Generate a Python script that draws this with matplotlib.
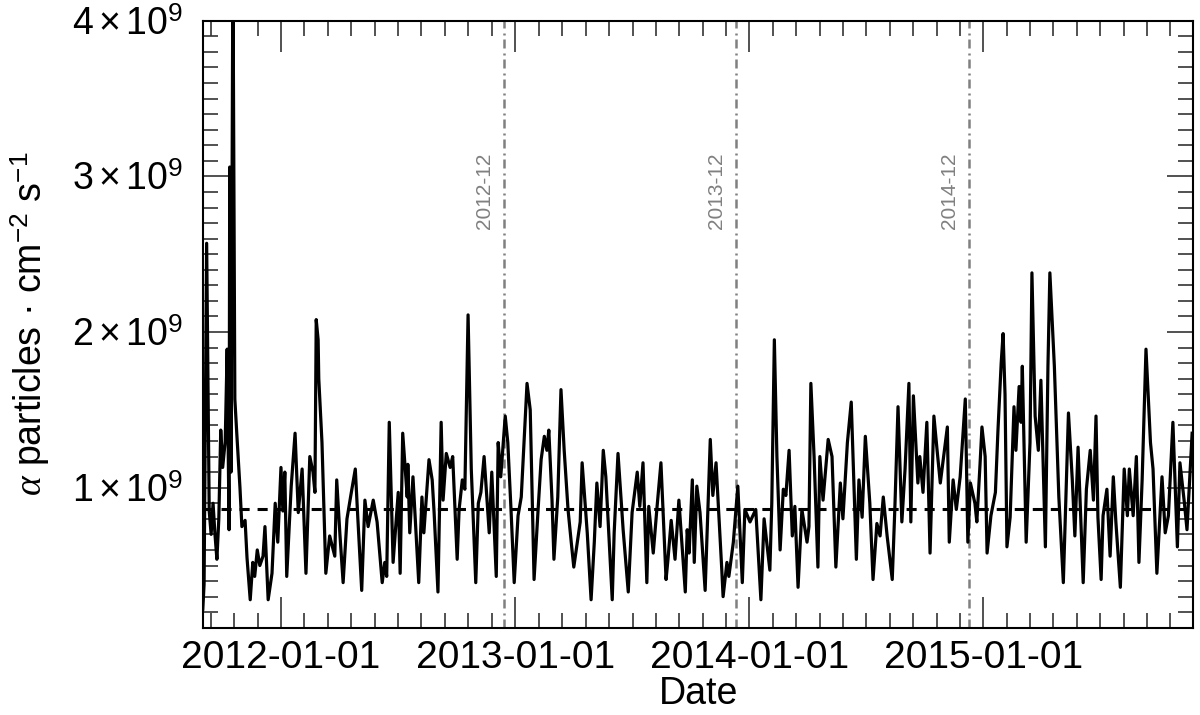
import numpy as np
import pandas as pd
import matplotlib
matplotlib.use('Agg')
import matplotlib.pyplot as plt
import matplotlib.dates as mdates
from matplotlib.ticker import FixedLocator, MultipleLocator, FuncFormatter
from datetime import datetime

plt.rcParams['font.family'] = ['Liberation Sans', 'DejaVu Sans']
plt.rcParams['mathtext.fontset'] = 'custom'
plt.rcParams['mathtext.rm'] = 'Liberation Sans'
plt.rcParams['mathtext.it'] = 'Liberation Serif:italic'

# days since 2012-01-01 of each reading
days = [
    -122, -120, -116, -112, -109, -106, -103, -100, -97, -94,
    -91, -87, -84, -81, -80, -78, -75, -72, -69, -64,
    -61, -56, -53, -48, -44, -41, -37, -33, -28, -25,
    -20, -14, -9, -5, 0, 3, 6, 9, 16, 22,
    27, 33, 39, 45, 50, 53, 55, 58, 59, 64,
    70, 76, 84, 87, 92, 97, 103, 109, 116, 120,
    126, 131, 136, 144, 150, 158, 162, 165, 169, 175,
    183, 186, 190, 197, 198, 201, 206, 215, 220, 223,
    231, 236, 239, 245, 250, 253, 258, 264, 268, 275,
    278, 283, 287, 292, 297, 304, 308, 312, 317, 325,
    329, 336, 339, 343, 350, 354, 359, 364, 370, 375,
    384, 389, 395, 401, 406, 411, 415, 418, 423, 426,
    432, 437, 442, 448, 453, 457, 467, 470, 478, 484,
    489, 493, 498, 503, 507, 517, 520, 526, 534, 542,
    548, 556, 560, 565, 571, 574, 581, 587, 593, 601,
    604, 609, 615, 621, 631, 634, 637, 642, 645, 649,
    654, 662, 670, 674, 679, 688, 690, 696, 699, 706,
    713, 720, 724, 732, 741, 749, 754, 763, 766, 770,
    774, 779, 784, 788, 793, 798, 802, 807, 813, 821,
    824, 827, 832, 838, 841, 846, 854, 860, 866, 873,
    877, 884, 890, 898, 902, 907, 912, 919, 924, 930,
    935, 940, 946, 954, 958, 963, 969, 974, 980, 983,
    987, 994, 997, 1002, 1008, 1013, 1019, 1024, 1029, 1040,
    1043, 1049, 1054, 1060, 1068, 1072, 1076, 1083, 1086, 1091,
    1094, 1099, 1102, 1108, 1115, 1119, 1124, 1127, 1130, 1133,
    1138, 1144, 1147, 1152, 1155, 1157, 1163, 1169, 1172, 1177,
    1182, 1186, 1193, 1197, 1200, 1207, 1214, 1221, 1225, 1229,
    1235, 1239, 1244, 1252, 1257, 1263, 1268, 1272, 1275, 1280,
    1283, 1289, 1294, 1299, 1303, 1310, 1316, 1321, 1324, 1330,
    1335, 1339, 1344, 1350, 1357, 1361, 1367, 1375, 1380, 1385,
    1392, 1399, 1403, 1410, 1414, 1422,
]

# alpha particle flux in units of 1e9 cm^-2 s^-1
flux = [
    0.22, 0.38, 2.57, 0.85, 0.70, 0.90, 0.70, 0.54, 0.80, 1.37,
    1.13, 1.30, 1.89, 0.73, 3.06, 1.10, 4.40, 1.57, 1.35, 1.00,
    0.75, 0.79, 0.55, 0.28, 0.52, 0.43, 0.60, 0.50, 0.56, 0.75,
    0.28, 0.45, 0.90, 0.65, 1.13, 0.85, 1.10, 0.43, 1.01, 1.35,
    0.84, 1.12, 0.45, 1.20, 1.10, 0.97, 2.08, 1.95, 1.70, 1.29,
    0.45, 0.69, 0.56, 1.05, 0.70, 0.39, 0.80, 0.95, 1.12, 0.80,
    0.34, 0.92, 0.75, 0.92, 0.78, 0.39, 0.52, 0.43, 1.42, 0.52,
    0.97, 0.45, 1.35, 0.94, 1.15, 0.71, 1.07, 0.39, 0.94, 0.71,
    1.18, 1.05, 0.84, 0.33, 1.42, 0.92, 1.22, 1.13, 1.20, 0.54,
    0.86, 1.05, 0.99, 2.11, 1.12, 0.39, 0.90, 0.97, 1.20, 0.71,
    1.10, 0.43, 1.29, 1.07, 1.46, 1.29, 0.86, 0.39, 0.82, 0.94,
    1.67, 1.50, 0.41, 0.84, 1.18, 1.33, 1.24, 1.37, 0.92, 0.54,
    0.94, 1.63, 1.24, 0.86, 0.65, 0.49, 0.78, 1.16, 0.71, 0.28,
    0.65, 1.03, 0.75, 1.24, 1.07, 0.28, 0.71, 1.22, 0.73, 0.33,
    0.84, 1.10, 0.88, 1.16, 0.39, 0.88, 0.58, 0.88, 1.16, 0.41,
    0.54, 0.79, 0.54, 0.92, 0.33, 0.73, 0.58, 1.05, 0.52, 1.01,
    0.84, 0.34, 1.31, 0.95, 1.16, 0.47, 0.30, 0.52, 0.43, 0.65,
    1.01, 0.39, 0.86, 0.78, 0.86, 0.28, 0.80, 0.47, 0.90, 1.95,
    1.20, 0.60, 0.99, 0.95, 1.24, 0.69, 0.88, 0.36, 0.86, 0.65,
    0.75, 1.67, 1.20, 0.49, 1.20, 0.92, 1.31, 1.20, 0.49, 1.03,
    0.80, 1.29, 1.55, 0.54, 1.05, 0.81, 1.33, 0.90, 0.41, 0.77,
    0.69, 0.94, 0.69, 0.41, 0.86, 1.52, 0.78, 1.12, 1.67, 0.78,
    1.59, 1.03, 1.20, 0.97, 1.42, 0.58, 1.46, 1.24, 1.03, 1.39,
    0.65, 1.05, 0.86, 1.07, 1.57, 0.65, 1.03, 0.90, 0.78, 1.15,
    1.39, 1.20, 0.58, 0.82, 0.97, 1.37, 1.80, 1.99, 1.60, 0.62,
    0.81, 1.52, 1.24, 1.65, 1.42, 1.78, 0.65, 1.29, 2.38, 1.46,
    1.24, 1.69, 0.62, 1.78, 2.38, 1.78, 0.94, 0.39, 0.94, 1.48,
    1.05, 0.69, 1.26, 0.39, 0.99, 1.24, 0.92, 1.46, 0.81, 0.41,
    0.82, 0.99, 0.56, 1.07, 0.78, 0.36, 1.12, 0.82, 1.12, 0.82,
    1.20, 0.52, 1.05, 1.89, 1.29, 1.12, 0.45, 1.07, 0.71, 0.82,
    1.42, 0.62, 1.16, 0.90, 0.73, 1.35,
]

mean_flux = 0.865
event_dates = ['2012-12-14', '2013-12-11', '2014-12-10']
event_labels = ['2012-12', '2013-12', '2014-12']
year_ticks = [2012, 2013, 2014, 2015]
y_ticks = [1, 2, 3, 4]

dates = pd.Timestamp('2012-01-01') + pd.to_timedelta(days, unit='D')
flux_abs = np.array(flux) * 1e9

fig = plt.figure(figsize=(12, 7.15), dpi=100)
ax = fig.add_axes([0.169, 0.122, 0.8255, 0.849])

ax.plot(dates, flux_abs, color='black', lw=2.3, zorder=2)
ax.axhline(mean_flux * 1e9, color='black', lw=2.2, dashes=(3.3, 2.6), zorder=3)

for d, lab in zip(event_dates, event_labels):
    ax.axvline(pd.Timestamp(d), color='#808080', lw=1.8,
               dashes=(3.6, 1.6, 0.8, 2.0), zorder=1)
    ax.annotate(lab, xy=(pd.Timestamp(d), 2.91e9), xytext=(-14, 0),
                textcoords='offset points', rotation=90, ha='center',
                va='center', color='#808080', fontsize=15)

ax.set_xlim(pd.Timestamp('2011-09-01'), pd.Timestamp('2015-11-25'))
ax.set_ylim(1e8, 4e9)

# major ticks at the new year, ten minor ticks per year
major = [mdates.date2num(datetime(y, 1, 1)) for y in year_ticks]
minor = [mdates.date2num(datetime(y, 1, 1)) + k * 36.525
         for y in range(2011, 2016) for k in range(1, 10)]
ax.xaxis.set_major_locator(FixedLocator(major))
ax.xaxis.set_minor_locator(FixedLocator(minor))
ax.xaxis.set_major_formatter(mdates.DateFormatter('%Y-%m-%d'))

ax.yaxis.set_major_locator(FixedLocator([v * 1e9 for v in y_ticks]))
ax.yaxis.set_minor_locator(MultipleLocator(1e8))
ax.yaxis.set_major_formatter(FuncFormatter(
    lambda v, p: r'$%d\times10^{9}$' % round(v / 1e9)))

ax.tick_params(which='both', direction='in', top=True, right=True,
               width=1.2, color='#333333')
ax.tick_params(axis='x', which='major', length=22, pad=9, labelsize=28)
ax.tick_params(axis='y', which='major', length=19, pad=14, labelsize=27)
ax.tick_params(which='minor', length=11)
for s in ax.spines.values():
    s.set_linewidth(1.5)

ax.set_xlabel('Date', fontsize=27, labelpad=0)
ax.set_ylabel(r'$\alpha$ particles · cm$^{-2}$ s$^{-1}$', fontsize=27)
ax.yaxis.set_label_coords(-0.152, 0.5)

fig.savefig('out.png', dpi=100)
